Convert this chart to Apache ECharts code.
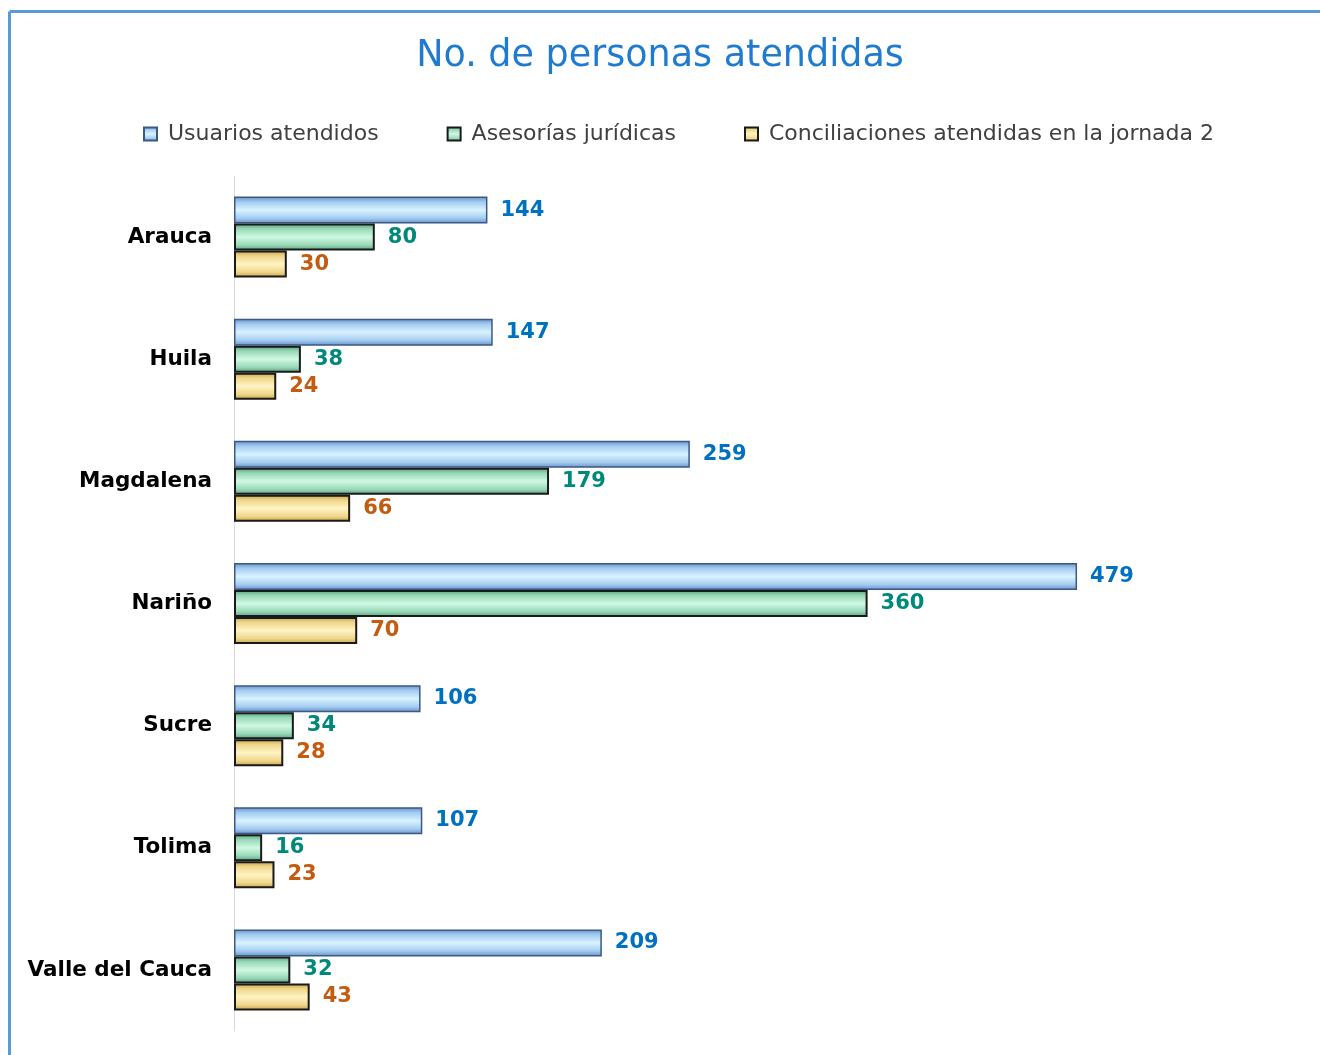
<!DOCTYPE html>
<html>
<head>
<meta charset="utf-8">
<script src="https://cdn.jsdelivr.net/npm/echarts@6/dist/echarts.min.js"></script>
<style>
  html, body {margin: 0; padding: 0; background: #fff;}
  #chart {width: 1320px; height: 1055px;}
</style>
</head>
<body>
<div id="chart"></div>
<script>
const categories = ['Arauca', 'Huila', 'Magdalena', 'Nariño', 'Sucre', 'Tolima', 'Valle del Cauca'];
const usuarios = [144, 147, 259, 479, 106, 107, 209];
const asesorias = [80, 38, 179, 360, 34, 16, 32];
const conciliaciones = [30, 24, 66, 70, 28, 23, 43];
const seriesNames = ['Usuarios atendidos', 'Asesorías jurídicas', 'Conciliaciones atendidas en la jornada 2'];

// horizontal bars with a bevelled look: darker at the top and bottom edges
const bevel = (edge, mid, light) => new echarts.graphic.LinearGradient(0, 0, 0, 1, [
  {offset: 0, color: edge},
  {offset: 0.2, color: mid},
  {offset: 0.5, color: light},
  {offset: 0.8, color: mid},
  {offset: 1, color: edge}
]);

const makeSeries = (name, data, fill, border, borderWidth, labelColor) => ({
  name: name,
  type: 'bar',
  data: data,
  barWidth: 27,
  barGap: '0%',
  itemStyle: {color: fill, borderColor: border, borderWidth: borderWidth},
  label: {
    show: true,
    position: 'right',
    distance: 13,
    color: labelColor,
    fontFamily: 'DejaVu Sans',
    fontWeight: 'bold',
    fontSize: 21
  }
});

const chart = echarts.init(document.getElementById('chart'));

chart.setOption({
  animation: false,
  backgroundColor: '#fff',
  title: {
    text: 'No. de personas atendidas',
    left: 'center',
    top: 33,
    textStyle: {color: '#1f7bd0', fontFamily: 'DejaVu Sans', fontWeight: 'normal', fontSize: 36.5}
  },
  legend: {
    top: 118,
    left: 138,
    itemGap: 68,
    itemWidth: 13,
    itemHeight: 13,
    icon: 'rect',
    textStyle: {color: '#404040', fontFamily: 'DejaVu Sans', fontSize: 22, padding: [0, 0, 0, 6]},
    data: seriesNames
  },
  grid: {left: 234, right: 30, top: 176, bottom: 24},
  xAxis: {
    type: 'value',
    min: 0,
    max: 600,
    show: false
  },
  yAxis: {
    type: 'category',
    inverse: true,
    data: categories,
    axisLine: {show: true, lineStyle: {color: '#d9d9d9', width: 1}},
    axisTick: {show: false},
    axisLabel: {
      margin: 22,
      color: '#000',
      fontFamily: 'DejaVu Sans',
      fontWeight: 'bold',
      fontSize: 21.5
    }
  },
  graphic: [
    {type: 'line', shape: {x1: 9.5, y1: 11.5, x2: 1320, y2: 11.5}, style: {stroke: '#5b9bd5', lineWidth: 3}},
    {type: 'line', shape: {x1: 9.5, y1: 11.5, x2: 9.5, y2: 1055}, style: {stroke: '#5b9bd5', lineWidth: 3}}
  ],
  series: [
    makeSeries(seriesNames[0], usuarios, bevel('#6690c8', '#a4cbf1', '#d8f3ff'), '#3a5a84', 1.5, '#0070c0'),
    makeSeries(seriesNames[1], asesorias, bevel('#519e7b', '#98d8b6', '#d0f8e3'), '#1a1a1a', 2, '#00897b'),
    makeSeries(seriesNames[2], conciliaciones, bevel('#c4a048', '#efd68a', '#fff4c4'), '#1a1a1a', 2, '#c55a11')
  ]
});
</script>
</body>
</html>
